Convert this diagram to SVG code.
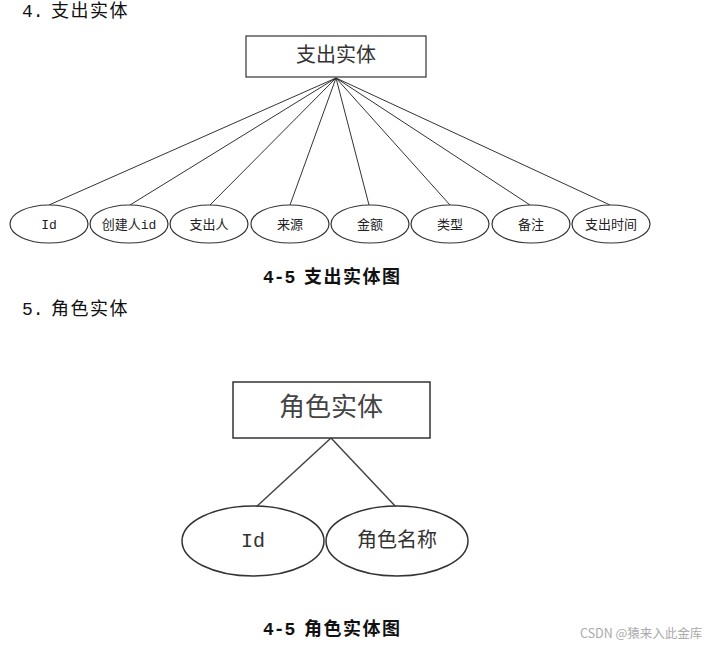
<svg xmlns="http://www.w3.org/2000/svg" width="717" height="647" viewBox="0 0 717 647">
<style>
text{font-family:"Liberation Mono","Noto Sans CJK SC",monospace;fill:#222}
.h{font-size:18px;fill:#111}
.cap{font-size:18px;font-weight:bold;fill:#111}
.ent{fill:#fff;stroke:#333;stroke-width:1.2}
.att{fill:#fff;stroke:#333;stroke-width:1.2}
.at{font-size:13px;text-anchor:middle;dominant-baseline:central}
.at2{font-size:20px;text-anchor:middle;dominant-baseline:central;fill:#333}
.et{font-size:20px;text-anchor:middle;dominant-baseline:central;fill:#333}
.et2{font-size:26px;text-anchor:middle;dominant-baseline:central;fill:#444}
.c line{stroke:#333;stroke-width:1}
.c2 line{stroke:#444;stroke-width:1.5}
</style>
<rect width="717" height="647" fill="#fff"/>
<text class="h" x="22" y="17">4.<tspan x="51" letter-spacing="1.5">支出实体</tspan></text>
<g class="c" id="connectors1">
<line x1="336" y1="78" x2="49" y2="205"/>
<line x1="336" y1="78" x2="130" y2="205"/>
<line x1="336" y1="78" x2="210" y2="205"/>
<line x1="336" y1="78" x2="290" y2="205"/>
<line x1="336" y1="78" x2="369" y2="205"/>
<line x1="336" y1="78" x2="450" y2="205"/>
<line x1="336" y1="78" x2="530" y2="205"/>
<line x1="336" y1="78" x2="610" y2="205"/>
</g>
<g id="zhichu"><rect class="ent" x="246" y="36" width="180" height="41"/><text class="et" x="336" y="56">支出实体</text></g>
<g id="a1"><ellipse class="att" cx="49" cy="224" rx="39" ry="19"/><text class="at" x="49" y="225">Id</text></g>
<g id="a2"><ellipse class="att" cx="129" cy="224" rx="39" ry="19"/><text class="at" x="129" y="225">创建人id</text></g>
<g id="a3"><ellipse class="att" cx="209" cy="224" rx="39" ry="19"/><text class="at" x="209" y="225">支出人</text></g>
<g id="a4"><ellipse class="att" cx="290" cy="224" rx="39" ry="19"/><text class="at" x="290" y="225">来源</text></g>
<g id="a5"><ellipse class="att" cx="370" cy="224" rx="39" ry="19"/><text class="at" x="370" y="225">金额</text></g>
<g id="a6"><ellipse class="att" cx="450" cy="224" rx="39" ry="19"/><text class="at" x="450" y="225">类型</text></g>
<g id="a7"><ellipse class="att" cx="531" cy="224" rx="39" ry="19"/><text class="at" x="531" y="225">备注</text></g>
<g id="a8"><ellipse class="att" cx="611" cy="224" rx="39" ry="19"/><text class="at" x="611" y="225">支出时间</text></g>
<text class="cap" x="263" y="283">4-5<tspan x="304" letter-spacing="1.5">支出实体图</tspan></text>
<text class="h" x="22" y="315">5.<tspan x="51" letter-spacing="1.5">角色实体</tspan></text>
<g class="c2" id="connectors2">
<line x1="331" y1="438" x2="255" y2="508"/>
<line x1="331" y1="438" x2="397" y2="508"/>
</g>
<g id="juese"><rect class="ent" x="233" y="382" width="197" height="56" style="stroke-width:1.5"/><text class="et2" x="331" y="409">角色实体</text></g>
<g id="b1"><ellipse class="att" cx="253" cy="541" rx="71" ry="35" style="stroke-width:1.5"/><text class="at2" x="253" y="541">Id</text></g>
<g id="b2"><ellipse class="att" cx="397" cy="541" rx="71" ry="35" style="stroke-width:1.5"/><text class="at2" x="397" y="541">角色名称</text></g>
<text class="cap" x="263" y="635">4-5<tspan x="304" letter-spacing="1.5">角色实体图</tspan></text>
<text x="580" y="638" style="font-family:'Noto Sans CJK SC',sans-serif;font-size:12.5px;fill:#aaa">CSDN @猿来入此金库</text>
</svg>
